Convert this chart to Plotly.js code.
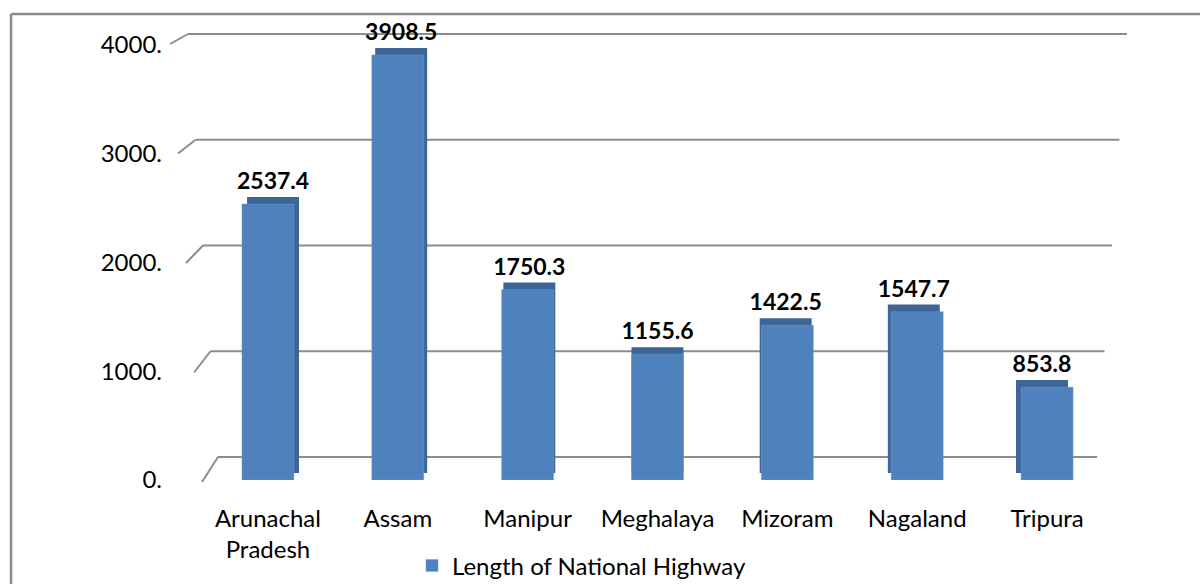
<!DOCTYPE html>
<html>
<head>
<meta charset="utf-8">
<script src="https://cdn.plot.ly/plotly-3.0.1.min.js"></script>
<style>html,body{margin:0;padding:0;background:#fff;}#chart{width:1200px;height:584px;}</style>
</head>
<body>
<div id="chart"></div>
<script>
// ---- data ----
const categories = ['Arunachal Pradesh', 'Assam', 'Manipur', 'Meghalaya', 'Mizoram', 'Nagaland', 'Tripura'];
const categoryLabels = ['Arunachal<br>Pradesh', 'Assam', 'Manipur', 'Meghalaya', 'Mizoram', 'Nagaland', 'Tripura'];
const highwayLength = [2537.4, 3908.5, 1750.3, 1155.6, 1422.5, 1547.7, 853.8];
const yTickValues = [0, 1000, 2000, 3000, 4000];
const yTickLabels = ['0.', '1000.', '2000.', '3000.', '4000.'];
const seriesName = 'Length of National Highway';

// ---- layout helpers (pixel -> paper) ----
const W = 1200, H = 584;
const px = x => x / W;
const py = y => 1 - y / H;
const yMax = 4000;
const FONT = 'Lato, "Open Sans", sans-serif';

const xLeft = 203, xRight = 1112;              // category band
const frontBottom = 480, frontTop = 45;        // front plane (value axis)
const stepPx = (xRight - xLeft) / categories.length;

// back wall perspective for the gridlines
const backY = v => 457 - (v / yMax) * 423;
const backL = v => 218 - (v / yMax) * 30;
const backR = v => 1097 + (v / yMax) * 30;
const frontX = v => 202 - (v / yMax) * 32;
const frontY = v => 482 - (v / yMax) * (482 - 44);

const shapes = [];
yTickValues.forEach(v => {
  shapes.push({type: 'line', xref: 'paper', yref: 'paper', layer: 'below',
    x0: px(backL(v)), x1: px(backR(v)), y0: py(backY(v)), y1: py(backY(v)),
    line: {color: '#8c8c8c', width: 2}});
  shapes.push({type: 'line', xref: 'paper', yref: 'paper', layer: 'below',
    x0: px(frontX(v)), y0: py(frontY(v)), x1: px(backL(v)), y1: py(backY(v)),
    line: {color: '#8c8c8c', width: 2}});
});
// outer chart frame
shapes.push({type: 'line', xref: 'paper', yref: 'paper', x0: px(11), x1: px(1205), y0: py(14), y1: py(14), line: {color: '#8c8c8c', width: 2.5}});
shapes.push({type: 'line', xref: 'paper', yref: 'paper', x0: px(11), x1: px(11), y0: py(14), y1: py(590), line: {color: '#8c8c8c', width: 2.5}});

// 3D look: darker side/top face behind each front face
const barW = 0.4;
const sideOffsets = categories.map((c, i) => -barW / 2 + (3 - i) * 1.7 / stepPx);
const capBase = 65;

const sideTrace = {
  type: 'bar', x: categories, y: highwayLength, base: capBase,
  xaxis: 'x', yaxis: 'y',
  width: barW, offset: sideOffsets,
  marker: {color: '#3d6595'},
  text: highwayLength.map(v => v.toFixed(1)),
  textposition: 'outside', cliponaxis: false, constraintext: 'none',
  textfont: {family: FONT, size: 23, color: '#000', weight: 'bold'},
  showlegend: false, hoverinfo: 'skip'
};
const frontTrace = {
  type: 'bar', x: categories, y: highwayLength, name: seriesName,
  xaxis: 'x', yaxis: 'y',
  width: barW,
  marker: {color: '#4f81bd', line: {color: '#6f9bd0', width: 0.5}},
  hovertemplate: '%{x}: %{y}<extra></extra>'
};

const layout = {
  width: W, height: H, autosize: false,
  margin: {l: 0, r: 0, t: 0, b: 0, pad: 0, autoexpand: false},
  paper_bgcolor: '#ffffff', plot_bgcolor: 'rgba(0,0,0,0)',
  font: {family: FONT, color: '#000'},
  barmode: 'overlay',
  xaxis: {
    domain: [px(xLeft), px(xRight)], type: 'category',
    tickvals: categories, ticktext: categoryLabels,
    showgrid: false, zeroline: false, showline: false, ticks: '',
    ticklabelstandoff: 22,
    tickfont: {family: FONT, size: 24, color: '#000'}, automargin: false, fixedrange: true
  },
  yaxis: {
    domain: [py(frontBottom), py(frontTop)], range: [0, yMax],
    anchor: 'free', position: px(162), side: 'left',
    tickvals: yTickValues, ticktext: yTickLabels,
    showgrid: false, zeroline: false, showline: false, ticks: '',
    tickfont: {family: FONT, size: 24, color: '#000'}, automargin: false, fixedrange: true
  },
  showlegend: true,
  legend: {
    orientation: 'h', x: px(412), xanchor: 'left', y: py(566), yanchor: 'middle',
    font: {family: FONT, size: 24, color: '#000'}, bgcolor: 'rgba(0,0,0,0)'
  },
  shapes: shapes
};

Plotly.newPlot('chart', [sideTrace, frontTrace], layout, {displayModeBar: false, staticPlot: true});
</script>
</body>
</html>
